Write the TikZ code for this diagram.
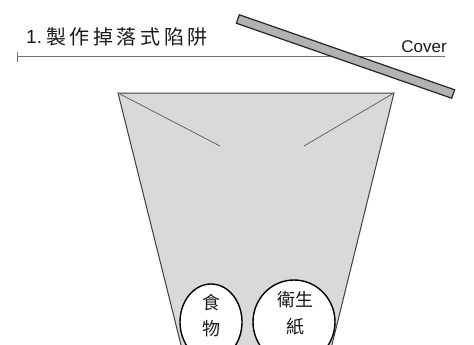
\documentclass[tikz,border=0pt]{standalone}
\usepackage{fontspec}
\setmainfont{Liberation Sans}
\newfontfamily\cjk[LetterSpace=18]{Noto Sans CJK TC}
\newfontfamily\cjkb{Noto Sans CJK TC}
\begin{document}
\begin{tikzpicture}[x=1pt,y=-1pt,
  trap/.style={draw=black!75,line width=1pt,fill=black!15},
  fold/.style={draw=black!60,line width=0.8pt},
  bait/.style={draw=black,line width=1.4pt,fill=white},
  lbl/.style={inner sep=0pt,text=black!90},
  cjklbl/.style={lbl,font=\cjkb\fontsize{18}{18}\selectfont},
]
\useasboundingbox (0,0) rectangle (474,345);
\begin{scope}
\clip (0,0) rectangle (474,345);
% bucket
\coordinate (tl) at (118,93);
\coordinate (tr) at (394,93);
\coordinate (bl) at (186,365);
\coordinate (br) at (327,365);
\coordinate (fl) at (220,146);
\coordinate (fr) at (304,146);
\fill[black!15] (bl) -- (tl) -- (tr) -- (br) -- cycle;
\draw[trap,fill=none] (bl) -- (tl) -- (tr) -- (br);
\draw[fold] (tl) -- (fl);
\draw[fold] (tr) -- (fr);
% baits
\draw[bait] (211,322) ellipse [x radius=31, y radius=38];
\draw[bait] (294,322) ellipse [x radius=41, y radius=42];
\node[cjklbl] (food1) at (211,303) {食};
\node[cjklbl] (food2) at (211,329) {物};
\node[cjklbl] (tis1) at (295,300) {衛生};
\node[cjklbl] (tis2) at (295,327) {紙};
\end{scope}
% title line
\coordinate (la) at (17,57);
\coordinate (lb) at (445,57);
\draw[black!55,line width=1pt] (la) -- (lb);
\draw[black!55,line width=1pt] (17,52) -- (17,62);
\node[lbl,anchor=west,font=\fontsize{19}{19}\selectfont] (num) at (26,37) {1.};
\node[lbl,anchor=west,font=\cjk\fontsize{20}{20}\selectfont] (title) at (46,37) {製作掉落式陷阱};
\node[lbl,anchor=east,font=\fontsize{17}{17}\selectfont] (cover) at (447,47) {Cover};
% cover board
\node[draw=black!85,line width=1.2pt,fill=black!30,minimum width=228pt,minimum height=9pt,inner sep=0pt,rotate=-19.2] (board) at (345.5,56.5) {};
\end{tikzpicture}
\end{document}
